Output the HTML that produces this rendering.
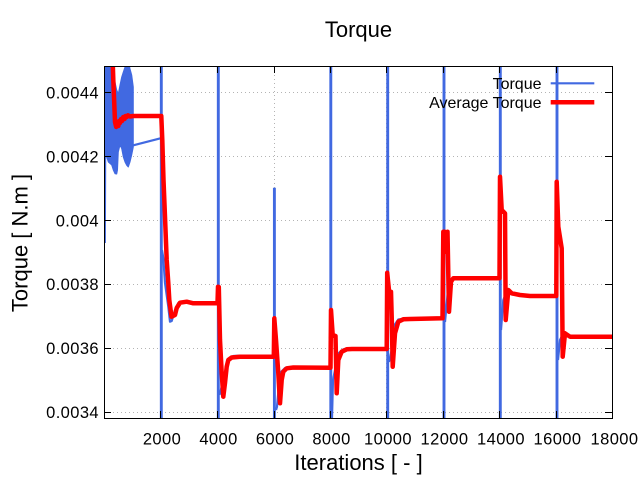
<!DOCTYPE html>
<html>
<head>
<meta charset="utf-8">
<style>
html,body{margin:0;padding:0;background:#fff;}
svg{display:block;}
text{font-family:"Liberation Sans","DejaVu Sans",sans-serif;fill:#000;}
</style>
</head>
<body>
<svg width="640" height="480" viewBox="0 0 640 480" xmlns="http://www.w3.org/2000/svg">
<defs>
<clipPath id="pa"><rect x="104.5" y="66.5" width="508" height="352"/></clipPath>
</defs>
<rect x="0" y="0" width="640" height="480" fill="#fff"/>

<!-- grid -->
<g stroke="#b4b4b4" stroke-width="1" stroke-dasharray="1,3" fill="none">
<path d="M105,92.5H612M105,156.5H612M105,220.5H612M105,284.5H612M105,348.5H612M105,412.5H612"/>
<path d="M160.5,67V418M217.5,67V418M274.5,67V418M330.5,67V418M386.5,67V418M443.5,67V418M499.5,67V418M556.5,67V418"/>
</g>

<g clip-path="url(#pa)">
<!-- Torque (blue) -->
<g stroke="#4169e1" stroke-width="2.2" fill="none" stroke-linejoin="round">
<path d="M104.8,243 L105.5,60 L107,60"/>
<path d="M133.3,145.3 L160.5,138.3"/>
<path d="M162,250 L163.3,258 L165,283 L168.3,306.7 L170,321.7 L171.7,321 L175,310 L178.3,303 L183.3,301.5 L190,302.3 L217.5,302.3"/>
<path d="M219.5,395 L221.7,386.7 L225,373 L228.3,360 L233.3,356 L240,355.7 L273.5,355.7"/>
<path d="M276,410 L277,406.7 L280,373 L285,368 L292,367.2 L330,367.2"/>
<path d="M332,418 L333,380 L338.3,353.3 L343.3,349.3 L350,348.7 L386.5,348.7"/>
<path d="M389,362 L391.7,350 L393.3,326.7 L398.3,319.5 L405,318.7 L443,318"/>
<path d="M445,322 L448,290 L451,281 L455,278 L499.5,278"/>
<path d="M501,330 L503.3,300 L506.7,291.7 L512,294.5 L530,295.7 L556,295.7"/>
<path d="M558,360 L560,340 L563.3,333.3 L570,336.2 L613,336.2"/>
</g>
<g stroke="#4169e1" stroke-width="2.9" fill="none">
<path d="M161.3,-10 V490"/>
<path d="M218.3,-10 V490"/>
<path d="M274.4,187.7 V490"/>
<path d="M330.8,-10 V490"/>
<path d="M387.7,-10 V490"/>
<path d="M444,-10 V490"/>
<path d="M500.3,-10 V490"/>
<path d="M557,-10 V490"/>
</g>
<polygon fill="#4169e1" stroke="#4169e1" stroke-width="1" stroke-linejoin="round" points="106,60 108.3,60 111.7,60 113.3,75 115,82 116.7,90 118.3,93.7 120,85 121.7,77 123.3,72 125,67 126.7,60 128.3,60 130,68.7 131.7,75 133.3,87 133.3,147 131.7,155 130,162 128.3,167 126.7,165.3 125,162 123.3,157 121.7,148.7 120,145 118.3,152 117.5,170 116.7,174 115,173.7 113.3,170 111.7,165 108.3,162 106,155"/>

<!-- Average Torque (red) -->
<path fill="none" stroke="#ff0000" stroke-width="4.5" stroke-linejoin="round" d="M112.5,55 L113.3,80 L115,122 L116.2,127 L117.3,124 L118.3,126 L119.2,121 L120,123 L121,119 L122,121 L123.3,117 L124.5,119 L125.5,116 L126.7,117 L128,115.3 L130,116.5 L133.3,116 L161.3,116 L162.3,140 L163.5,180 L165,217 L166.7,260 L168.3,283 L169.3,300 L171.5,316.7 L175,315 L176.7,308 L180,302.7 L186.7,301.7 L193.3,303.3 L217.5,303.3 L218,286.7 L218.8,287 L220,340 L221.7,373 L223.3,396.7 L225,383 L226.7,366.7 L228.3,360 L231.7,357.5 L240,356.7 L273.8,356.7 L274.3,318.3 L276,340 L278.3,373.3 L280,403.3 L281.7,380 L283.3,371.7 L286.7,368.3 L293.3,367.5 L330.5,367.7 L331,310 L332.7,335 L335.5,336 L336.7,393.3 L338.3,360 L341.7,351.7 L346.7,349.3 L352,349 L386.7,349 L387.2,272.7 L389.3,293.3 L391,291.7 L391.7,316.7 L392.7,366.7 L395,333.3 L398.3,321.7 L403.3,319.3 L410,319 L442.5,318.3 L443.3,231.7 L444.5,231.7 L445.7,251.7 L447.5,231.7 L449,311.7 L451,281.7 L453.3,278.3 L499.5,278.3 L500,176.7 L501.7,210 L505,213.3 L505.7,320 L508.3,290 L511.7,293.3 L520,295 L530,296 L556.3,296 L556.7,181.7 L558.3,226.7 L561.7,248.3 L562.7,356.7 L565,333.3 L570,336.7 L614,336.7"/>
</g>

<!-- border and ticks -->
<rect x="104.5" y="66.5" width="508" height="352" fill="none" stroke="#000" stroke-width="1"/>
<g stroke="#000" stroke-width="1">
<path d="M105,92.5H111M105,156.5H111M105,220.5H111M105,284.5H111M105,348.5H111M105,412.5H111"/>
<path d="M605,92.5H612M605,156.5H612M605,220.5H612M605,284.5H612M605,348.5H612M605,412.5H612"/>
<path d="M160.5,418V411M217.5,418V411M274.5,418V411M330.5,418V411M386.5,418V411M443.5,418V411M499.5,418V411M556.5,418V411"/>
<path d="M160.5,67V73M217.5,67V73M274.5,67V73M330.5,67V73M386.5,67V73M443.5,67V73M499.5,67V73M556.5,67V73"/>
</g>

<!-- y tick labels -->
<g font-size="16.5" text-anchor="end" letter-spacing="0.4">
<text x="99" y="98.5">0.0044</text>
<text x="99" y="162.5">0.0042</text>
<text x="99" y="226.5">0.004</text>
<text x="99" y="290">0.0038</text>
<text x="99" y="354">0.0036</text>
<text x="99" y="418">0.0034</text>
</g>
<!-- x tick labels -->
<g font-size="16.5" text-anchor="middle" letter-spacing="0.4">
<text x="162" y="444.5">2000</text>
<text x="218.5" y="444.5">4000</text>
<text x="275" y="444.5">6000</text>
<text x="331.5" y="444.5">8000</text>
<text x="388" y="444.5">10000</text>
<text x="444.5" y="444.5">12000</text>
<text x="501" y="444.5">14000</text>
<text x="557.5" y="444.5">16000</text>
<text x="614.5" y="444.5">18000</text>
</g>

<!-- titles -->
<text x="358.5" y="37" font-size="22" text-anchor="middle">Torque</text>
<text x="358.5" y="470" font-size="22" text-anchor="middle">Iterations [ - ]</text>
<text transform="translate(27.5,243) rotate(-90)" font-size="22" text-anchor="middle">Torque [ N.m ]</text>

<!-- legend -->
<text x="541.5" y="89" font-size="16" text-anchor="end">Torque</text>
<text x="541.5" y="108" font-size="16" text-anchor="end">Average Torque</text>
<path d="M550.7,83.3H594.3" stroke="#4169e1" stroke-width="2.2"/>
<path d="M550.7,102.3H594.3" stroke="#ff0000" stroke-width="4.5"/>
</svg>
</body>
</html>
